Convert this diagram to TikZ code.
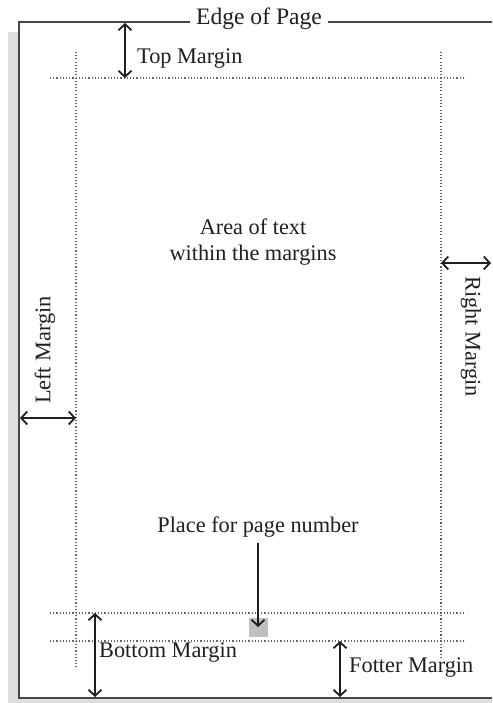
\documentclass[tikz,border=0pt]{standalone}
\usepackage{fontspec}
\setmainfont{Liberation Serif}
\usetikzlibrary{arrows.meta}
\begin{document}
\begin{tikzpicture}[x=1pt,y=-1pt,
  lbl/.style={font=\fontsize{22.3}{26}\selectfont, text=black!88, inner sep=1pt},
  tip/.tip={Straight Barb[length=6pt,width=13pt,line width=1.8pt]},
  dim/.style={draw=black!88, line width=2pt, tip-tip},
  ptr/.style={draw=black!88, line width=2pt, -tip},
  guide/.style={draw=black!60, line width=1.2pt, dash pattern=on 1.1pt off 2.1pt},
  edge/.style={draw=black!72, line width=1.6pt}]
\useasboundingbox (0,0) rectangle (492,703);
% shadow and page
\fill[black!13] (8,32) rectangle (492,703);
\fill[white] (19,22) rectangle (492,698);
\coordinate (tl) at (19,22);
\coordinate (tr) at (492,22);
\coordinate (bl) at (19,698);
\coordinate (br) at (492,698);
\draw[edge] (tr) -- (tl) -- (bl) -- (br);
\node[lbl, font=\fontsize{23.6}{27}\selectfont, fill=white, inner xsep=6pt] (edgelbl) at (259,19) {Edge of Page};
% guides
\coordinate (gt1) at (50,78);   \coordinate (gt2) at (466,78);
\coordinate (gb1) at (50,613);  \coordinate (gb2) at (466,613);
\coordinate (gf1) at (50,641);  \coordinate (gf2) at (466,641);
\coordinate (gl1) at (76,52);   \coordinate (gl2) at (76,667);
\coordinate (gr1) at (441,52);  \coordinate (gr2) at (441,657);
\draw[guide] (gt1) -- (gt2);
\draw[guide] (gb1) -- (gb2);
\draw[guide] (gf1) -- (gf2);
\draw[guide] (gl1) -- (gl2);
\draw[guide] (gr1) -- (gr2);
% top margin
\coordinate (tm1) at (125,23); \coordinate (tm2) at (125,78);
\draw[dim] (tm1) -- (tm2);
\node[lbl, anchor=west] (toplbl) at (136,59) {Top Margin};
% left margin
\coordinate (lm1) at (20,418); \coordinate (lm2) at (76,418);
\draw[dim] (lm1) -- (lm2);
\node[lbl, rotate=90] (leftlbl) at (45,350) {Left Margin};
% right margin
\coordinate (rm1) at (441,263); \coordinate (rm2) at (491,263);
\draw[dim] (rm1) -- (rm2);
\node[lbl, rotate=-90, anchor=west] (rightlbl) at (471,275) {Right Margin};
% area of text
\node[lbl, align=center] (area) at (253,242) {Area of text\\within the margins};
% page number
\node[fill=black!25, minimum size=19pt, inner sep=0pt] (pnum) at (258.5,627) {};
\node[lbl] (pnlbl) at (258,527) {Place for page number};
\coordinate (pnend) at (258,627);
\draw[ptr] (pnlbl.south) ++(0,5) -- (pnend);
% bottom margin
\coordinate (bm1) at (95,613); \coordinate (bm2) at (95,697);
\draw[dim] (bm1) -- (bm2);
\node[lbl, anchor=west] (botlbl) at (98,653) {Bottom Margin};
% footer margin
\coordinate (fm1) at (340,641); \coordinate (fm2) at (340,697);
\draw[dim] (fm1) -- (fm2);
\node[lbl, anchor=west] (footlbl) at (348,668) {Fotter Margin};
\end{tikzpicture}
\end{document}
